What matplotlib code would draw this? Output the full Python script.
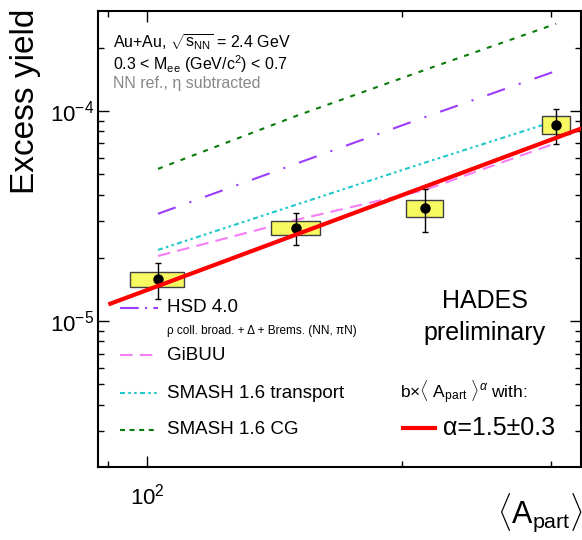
import numpy as np
import matplotlib
matplotlib.use("Agg")
import matplotlib.pyplot as plt
from matplotlib.patches import Rectangle
from matplotlib.lines import Line2D
from matplotlib.ticker import LogLocator, NullFormatter

plt.rcParams['font.family'] = ['Liberation Sans', 'DejaVu Sans']
plt.rcParams['mathtext.fontset'] = 'custom'
plt.rcParams['mathtext.rm'] = 'Liberation Sans'
plt.rcParams['mathtext.it'] = 'Liberation Sans:italic'
plt.rcParams['mathtext.bf'] = 'Liberation Sans:bold'
plt.rcParams['mathtext.sf'] = 'Liberation Sans'

# centrality classes 0-10, 10-20, 20-30, 30-40 %, listed from peripheral to central
apart = [103, 150, 213, 304]
excess = [1.58e-5, 2.77e-5, 3.45e-5, 8.58e-5]
stat_err = [0.30e-5, 0.48e-5, 0.81e-5, 1.62e-5]
sys_err = [0.125e-5, 0.21e-5, 0.32e-5, 0.835e-5]
apart_err = [7.5, 10.0, 10.7, 11.5]

# transport / coarse-grained model curves
hsd = [3.24e-5, 5.61e-5, 9.36e-5, 1.55e-4]
gibuu = [2.04e-5, 3.03e-5, 4.21e-5, 7.04e-5]
smash_tr = [2.18e-5, 3.58e-5, 5.68e-5, 8.98e-5]
smash_cg = [5.3e-5, 9.47e-5, 1.57e-4, 2.6e-4]

# power law fit b * <A_part>^alpha
alpha = 1.5
b_fit = 1.405e-8
fit_range = (90, 330)

c_hsd = '#9b3dfa'
c_gibuu = '#f57ef5'
c_tr = '#1ec8c8'
c_cg = '#0a7a0a'

fig = plt.figure(figsize=(5.82, 5.40), dpi=100)
ax = fig.add_axes([98/582, 73/540, 483/582, 456/540])
ax.set_xscale('log')
ax.set_yscale('log')
ax.set_xlim(87.5, 325.3)
ax.set_ylim(2.02e-6, 2.99e-4)

lw = 1.5
ax.plot(apart, smash_cg, color=c_cg, lw=lw, ls=(0, (2.4, 3.4)))
ax.plot(apart, hsd, color=c_hsd, lw=lw, ls=(0, (9, 7, 1, 7)))
ax.plot(apart, smash_tr, color=c_tr, lw=lw, ls=(0, (2.4, 1.6, 1.2, 1.6, 1.2, 1.6)))
ax.plot(apart, gibuu, color=c_gibuu, lw=lw, ls=(0, (6, 3.5)))

# systematic boxes
for x, y, dx, dy in zip(apart, excess, apart_err, sys_err):
    ax.add_patch(Rectangle((x - dx, y - dy), 2*dx, 2*dy, facecolor='#f8f860',
                           edgecolor='#404040', lw=1.0, zorder=3))

ax.errorbar(apart, excess, yerr=stat_err, fmt='o', color='black', ms=6.5,
            elinewidth=1.0, capsize=2, capthick=1.0, zorder=4)

xf = np.geomspace(fit_range[0], fit_range[1], 50)
ax.plot(xf, b_fit * xf**alpha, color='red', lw=3, zorder=5, solid_capstyle='butt')

# axis styling
for s in ax.spines.values():
    s.set_linewidth(1.5)
ax.tick_params(which='both', direction='in', top=True, right=True, width=1.0)
ax.tick_params(which='major', length=8, labelsize=16)
ax.tick_params(which='minor', length=4.5)
ax.tick_params(axis='x', pad=12)
ax.tick_params(axis='y', pad=3)
ax.xaxis.set_minor_locator(LogLocator(base=10, subs=np.arange(2, 10) * 0.1, numticks=20))
ax.xaxis.set_minor_formatter(NullFormatter())
ax.yaxis.set_minor_locator(LogLocator(base=10, subs=np.arange(2, 10) * 0.1, numticks=20))
ax.yaxis.set_minor_formatter(NullFormatter())

fig.text(41/582, 1 - 9/540, 'Excess yield', rotation=90, ha='right', va='top',
         fontsize=24)
fig.text(583/582, 17/540, r'$\langle\mathrm{A}_{\mathrm{part}}\rangle$', ha='right',
         va='baseline', fontsize=22)

# header text
tr = fig.transFigure
fig.text(113/582, 1 - 47/540, r'Au+Au, $\sqrt{\mathrm{s}_{\mathrm{NN}}}$ = 2.4 GeV',
         fontsize=11.5, va='baseline')
fig.text(113/582, 1 - 70/540, r'0.3 < M$_{\mathrm{ee}}$ (GeV/c$^{2}$) < 0.7',
         fontsize=11.5, va='baseline')
fig.text(113/582, 1 - 88/540, 'NN ref., η subtracted', color='#888888',
         fontsize=11.5, va='baseline')

# legend keys and labels
entries = [
    (308, c_hsd, (0, (9, 3, 1, 3)), 'HSD 4.0'),
    (355, c_gibuu, (0, (6, 3.5)), 'GiBUU'),
    (393, c_tr, (0, (2.4, 1.6, 1.2, 1.6, 1.2, 1.6)), 'SMASH 1.6 transport'),
    (430, c_cg, (0, (2.4, 2.2)), 'SMASH 1.6 CG'),
]
for ypx, col, style, label in entries:
    yf = 1 - ypx/540
    fig.add_artist(Line2D([120/582, 158/582], [yf, yf], color=col, lw=lw, ls=style,
                          transform=tr))
    fig.text(167/582, yf, label, fontsize=13.5, va='center')
fig.text(167/582, 1 - 331/540, 'ρ coll. broad. + Δ + Brems. (NN, πN)',
         fontsize=8.5, va='center')

fig.text(485/582, 1 - 308/540, 'HADES', fontsize=18, ha='center', va='baseline')
fig.text(485/582, 1 - 340/540, 'preliminary', fontsize=18, ha='center', va='baseline')

fig.text(400/582, 1 - 398/540,
         r'b$\times\langle$ A$_{\mathrm{part}}$ $\rangle^{\alpha}$ with:',
         fontsize=12.5, va='baseline')
fig.add_artist(Line2D([403/582, 435/582], [1 - 428/540, 1 - 428/540], color='red',
                      lw=3, transform=tr))
fig.text(443/582, 1 - 435/540, 'α=1.5±0.3', fontsize=18, va='baseline')

fig.savefig('out.png', dpi=100)
